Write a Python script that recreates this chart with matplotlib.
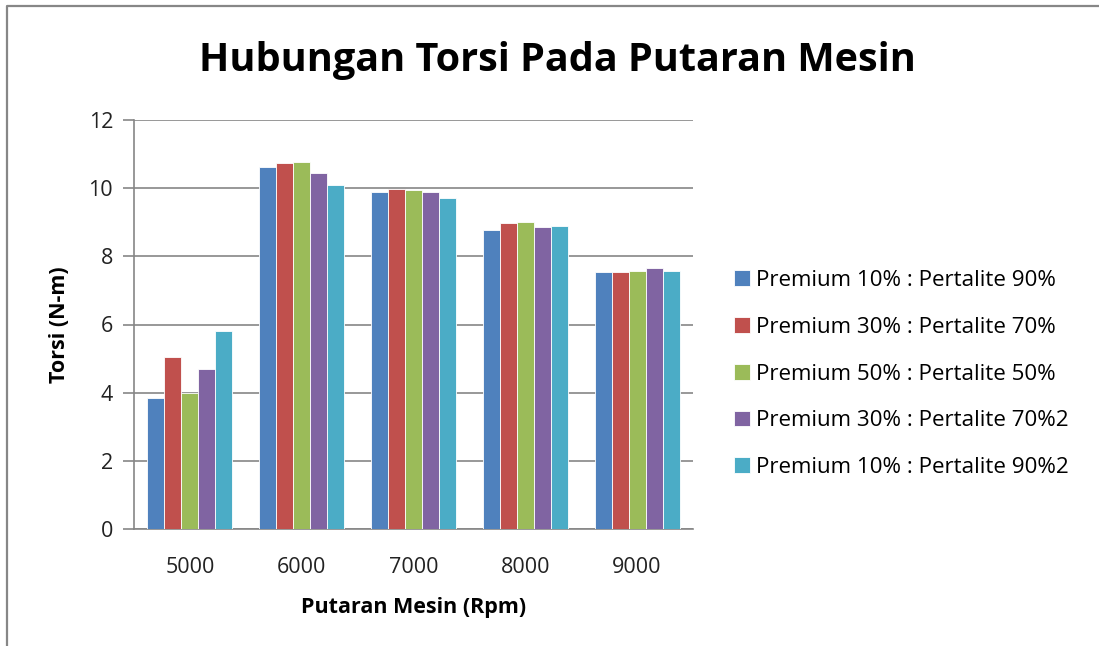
import numpy as np
import matplotlib.pyplot as plt
from matplotlib.lines import Line2D

plt.rcParams['font.family'] = ['Open Sans', 'DejaVu Sans']

# data
rpm = ['5000', '6000', '7000', '8000', '9000']
series_names = [
    'Premium 10% : Pertalite 90%',
    'Premium 30% : Pertalite 70%',
    'Premium 50% : Pertalite 50%',
    'Premium 30% : Pertalite 70%2',
    'Premium 10% : Pertalite 90%2',
]
p10_p90 = [3.85, 10.61, 9.90, 8.77, 7.53]
p30_p70 = [5.05, 10.73, 9.98, 8.97, 7.53]
p50_p50 = [3.98, 10.76, 9.94, 9.01, 7.57]
p30_p70_2 = [4.69, 10.44, 9.90, 8.85, 7.65]
p10_p90_2 = [5.81, 10.08, 9.71, 8.88, 7.57]
values = [p10_p90, p30_p70, p50_p50, p30_p70_2, p10_p90_2]

colors = ['#4F81BD', '#C0504D', '#9BBB59', '#8064A2', '#4BACC6']

W, H = 1099, 646
fig = plt.figure(figsize=(W / 100, H / 100), dpi=100)

# chart border: only left and top edges show in the original
fig.lines.append(Line2D([7 / W, 7 / W, 1.0], [0.0, 1 - 6 / H, 1 - 6 / H],
                        transform=fig.transFigure, color='#878787',
                        linewidth=1.6))

ax = fig.add_axes([134 / W, (H - 529) / H, (693 - 134) / W, 409 / H])

x = np.arange(len(rpm))
n = len(values)
group = 0.76
bw = group / n
for i, (vals, c, name) in enumerate(zip(values, colors, series_names)):
    ax.bar(x - group / 2 + bw * (i + 0.5), vals, width=bw, color=c,
           edgecolor='white', linewidth=0.6, label=name, zorder=3)

ax.set_xlim(-0.5, len(rpm) - 0.5)
ax.set_ylim(0, 12)
ax.set_yticks(range(0, 13, 2))
ax.set_xticks(x)
ax.set_xticklabels(rpm)
ax.grid(axis='y', color='#868686', linewidth=1.2, zorder=0)
ax.set_axisbelow(True)

for s in ['top', 'right']:
    ax.spines[s].set_visible(False)
ax.spines['left'].set_color('#868686')
ax.spines['bottom'].set_color('#868686')
ax.spines['left'].set_linewidth(1.2)
ax.spines['bottom'].set_linewidth(1.2)
ax.tick_params(axis='y', length=8, width=1.2, color='#868686',
               labelsize=15.5, labelcolor='#222222', pad=7)
ax.tick_params(axis='x', length=0, labelsize=15.5, labelcolor='#222222', pad=20)

ax.set_xlabel('Putaran Mesin (Rpm)', fontsize=15.5, fontweight='bold',
              labelpad=14)
ax.set_ylabel('Torsi (N-m)', fontsize=15.5, fontweight='bold', labelpad=13)

fig.text(557 / W, 1 - 60 / H, 'Hubungan Torsi Pada Putaran Mesin',
         ha='center', va='center', fontsize=28.5, fontweight='bold')

fig.legend(loc='center left', bbox_to_anchor=(725 / W, 1 - 374 / H),
           frameon=False, fontsize=16.1, handlelength=0.7, handleheight=0.7,
           handletextpad=0.3, labelspacing=1.15, borderaxespad=0)

fig.savefig('out.png', dpi=100)
